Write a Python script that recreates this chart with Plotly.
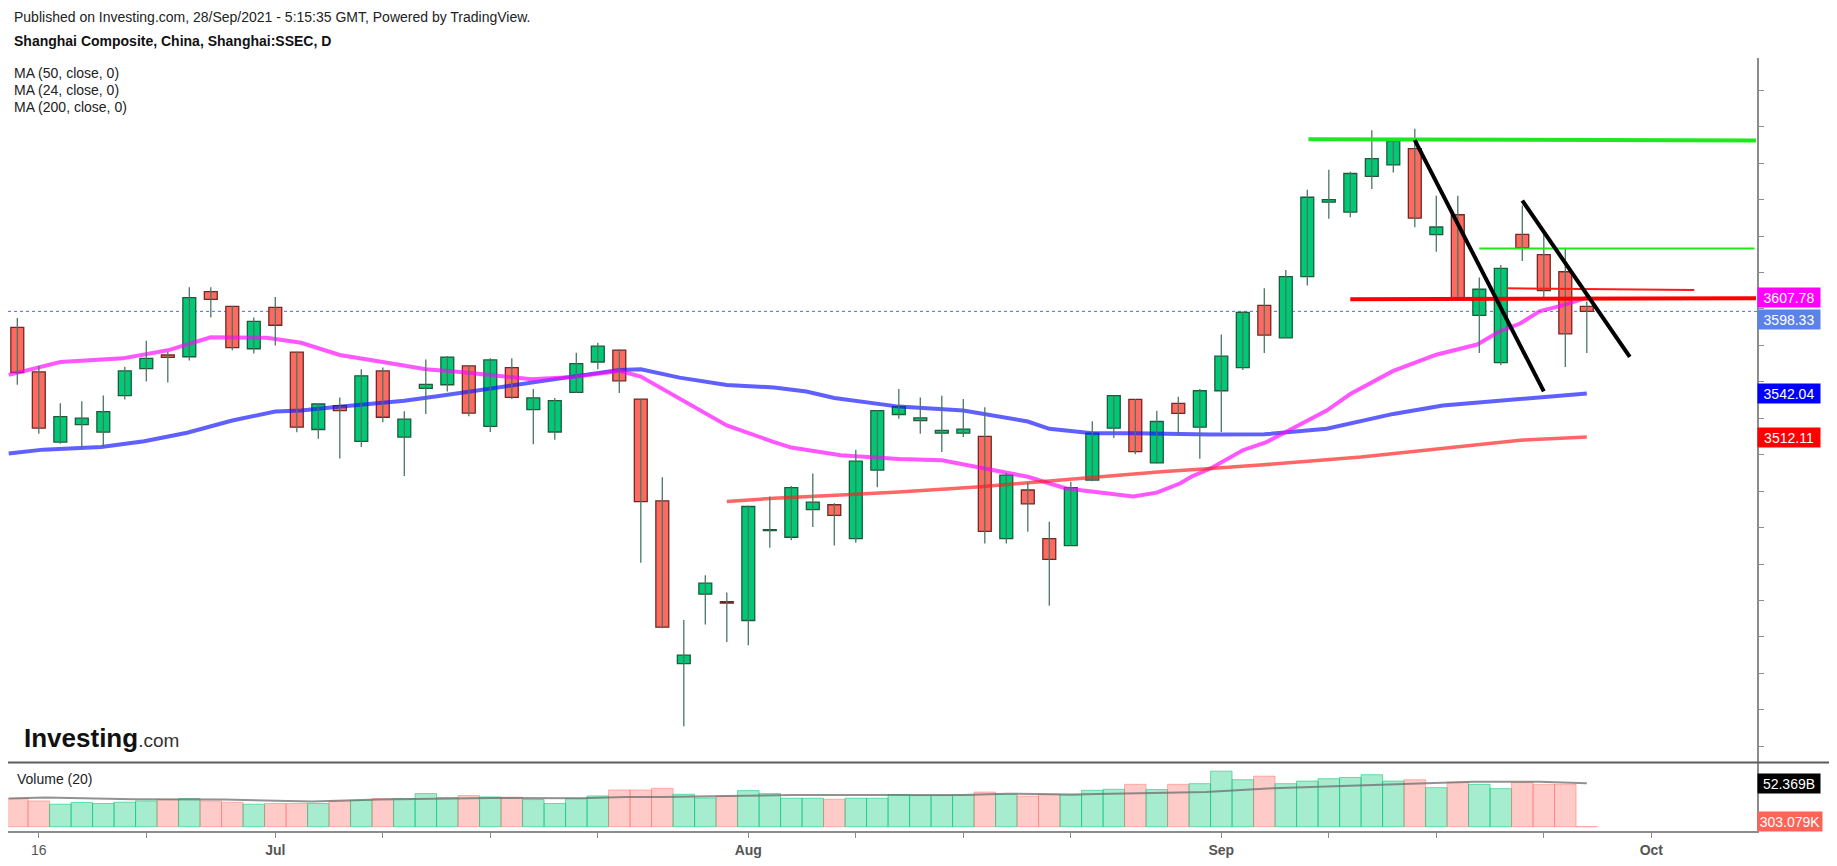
import plotly.graph_objects as go

# Shanghai Composite daily bars, 15 Jun 2021 .. 28 Sep 2021 (bar index 0..73)
opens = [3587.4, 3556.8, 3508.7, 3520.7, 3515.5, 3540.5, 3559.1, 3568.4, 3567.2, 3611.9,
         3601.7, 3572.7, 3601.0, 3570.4, 3517.3, 3533.7, 3509.2, 3557.5, 3512.1, 3545.5,
         3548.0, 3560.9, 3519.4, 3559.8, 3531.0, 3515.6, 3542.8, 3563.6, 3571.8, 3538.2,
         3468.4, 3356.8, 3404.4, 3399.2, 3386.3, 3448.0, 3443.4, 3462.3, 3465.7, 3442.5,
         3489.5, 3527.6, 3523.4, 3514.8, 3514.8, 3512.6, 3442.5, 3475.8, 3442.5, 3437.7,
         3482.6, 3518.2, 3538.0, 3494.4, 3535.2, 3518.9, 3543.9, 3559.8, 3602.4, 3580.2,
         3622.2, 3673.2, 3666.4, 3690.9, 3698.8, 3709.9, 3651.0, 3664.6, 3595.6, 3563.2,
         3651.2, 3637.3, 3625.5, 3601.7]
highs = [3593.8, 3560.9, 3535.3, 3536.6, 3540.7, 3560.4, 3578.1, 3570.4, 3614.9, 3614.9,
         3601.9, 3594.2, 3608.1, 3570.6, 3534.9, 3539.3, 3558.6, 3559.8, 3529.8, 3565.4,
         3567.7, 3561.1, 3566.1, 3566.1, 3545.0, 3538.9, 3570.0, 3576.8, 3572.2, 3538.4,
         3484.5, 3386.7, 3417.4, 3405.6, 3465.0, 3471.3, 3478.6, 3487.2, 3466.8, 3503.5,
         3530.5, 3545.0, 3539.3, 3540.5, 3538.2, 3532.5, 3487.6, 3480.8, 3454.0, 3481.5,
         3523.0, 3540.6, 3538.2, 3530.2, 3539.8, 3545.0, 3582.5, 3598.4, 3614.2, 3626.7,
         3681.8, 3695.4, 3694.0, 3722.6, 3716.7, 3723.5, 3677.7, 3677.7, 3621.5, 3630.1,
         3670.9, 3651.6, 3641.9, 3605.1]
lows = [3548.0, 3514.4, 3507.6, 3504.2, 3505.3, 3537.8, 3550.2, 3549.6, 3564.7, 3594.2,
        3571.6, 3569.5, 3575.0, 3515.5, 3511.0, 3497.4, 3505.3, 3522.3, 3485.4, 3528.0,
        3543.4, 3526.4, 3515.6, 3538.2, 3507.2, 3510.3, 3542.5, 3558.6, 3542.3, 3426.0,
        3381.0, 3313.7, 3383.6, 3371.5, 3369.3, 3436.2, 3441.4, 3450.5, 3437.8, 3439.6,
        3477.7, 3524.6, 3514.4, 3501.9, 3512.1, 3439.1, 3439.1, 3447.2, 3396.4, 3437.5,
        3481.9, 3511.4, 3500.3, 3494.0, 3513.9, 3497.3, 3515.6, 3558.2, 3569.8, 3580.0,
        3616.0, 3661.9, 3662.8, 3682.3, 3693.6, 3656.0, 3639.2, 3606.9, 3569.8, 3561.4,
        3632.8, 3608.1, 3560.2, 3569.8]
closes = [3556.4, 3518.3, 3526.2, 3525.1, 3529.6, 3557.5, 3566.1, 3566.8, 3607.8, 3606.5,
          3573.4, 3591.5, 3588.8, 3518.9, 3534.8, 3530.3, 3554.1, 3525.7, 3524.4, 3548.2,
          3567.0, 3528.5, 3565.0, 3539.4, 3539.0, 3537.1, 3562.5, 3574.5, 3550.7, 3467.9,
          3381.7, 3362.5, 3411.9, 3398.3, 3464.5, 3448.7, 3477.5, 3467.5, 3458.4, 3495.6,
          3530.3, 3533.0, 3525.3, 3516.7, 3517.6, 3447.5, 3486.0, 3466.3, 3428.2, 3477.4,
          3514.8, 3540.5, 3502.1, 3522.8, 3528.4, 3543.9, 3567.7, 3597.7, 3582.0, 3622.2,
          3676.6, 3675.0, 3692.9, 3703.1, 3715.1, 3662.3, 3656.2, 3607.0, 3613.5, 3627.8,
          3642.1, 3612.6, 3582.9, 3598.33]
# volume, billions
volumes = [34.0, 31.2, 27.2, 29.2, 28.0, 29.6, 31.2, 32.8, 34.0, 31.2,
           29.6, 27.2, 28.0, 28.0, 28.0, 31.2, 32.0, 34.0, 34.0, 40.0,
           35.2, 37.6, 36.0, 35.6, 32.8, 28.0, 34.0, 37.2, 44.4, 44.4,
           46.4, 39.2, 34.7, 37.1, 43.6, 40.0, 34.4, 34.4, 33.2, 34.4,
           34.4, 38.8, 37.6, 37.6, 38.3, 41.9, 39.2, 37.1, 39.2, 38.3,
           44.0, 45.2, 51.2, 44.8, 51.2, 52.0, 67.1, 56.8, 61.1, 52.0,
           55.1, 58.0, 59.5, 62.8, 55.1, 56.8, 47.2, 53.6, 51.2, 46.0,
           53.6, 51.2, 51.2, 0.000303]

# moving averages (x = bar index)
ma50_x = [-0.4, 1.2, 3.9, 5.9, 7.9, 10, 12, 13.2, 14.7, 16.3, 18, 19.7, 22, 24, 26.2, 28, 29,
          30.8, 33, 35.2, 36.7, 38, 41, 44, 47, 48, 50, 52, 55.5, 58, 60.9, 64, 66.3, 69, 70.5, 73]
ma50_v = [3500.8, 3503.5, 3505.3, 3509.2, 3515.1, 3523.5, 3529.6, 3530.3, 3532.5, 3534.8,
          3537.1, 3540.5, 3545.5, 3549.5, 3554.1, 3558.2, 3558.6, 3552.9, 3547.9, 3546.1,
          3543.4, 3538.9, 3533.0, 3530.3, 3522.8, 3517.8, 3514.8, 3514.8, 3513.9, 3514.0,
          3517.8, 3528.0, 3533.7, 3537.1, 3538.9, 3542.04]
ma24_x = [-0.4, 2, 4.9, 7, 9, 10, 11.6, 13.2, 15, 17, 19, 20.6, 23.9, 25.9, 28, 29, 31, 33,
          35.2, 36, 38.3, 41, 43, 44.8, 47, 47.9, 48.8, 51.9, 53, 54.1, 54.6, 55.5, 57, 58.1,
          60.9, 62, 64, 66, 67.9, 69, 69.9, 70.8, 72, 73]
ma24_v = [3554.8, 3563.6, 3566.1, 3571.6, 3580.6, 3580.6, 3580.2, 3576.8, 3568.4, 3563.6,
          3558.6, 3556.8, 3551.8, 3553.4, 3557.5, 3553.6, 3537.1, 3520.1, 3508.7, 3504.9,
          3499.6, 3497.0, 3496.2, 3491.2, 3484.9, 3480.8, 3476.9, 3471.3, 3474.0, 3480.4,
          3484.9, 3490.6, 3503.1, 3508.7, 3530.3, 3541.6, 3557.5, 3568.6, 3575.6, 3585.0,
          3590.0, 3598.3, 3602.9, 3607.78]
ma200_x = [33, 35.2, 38.3, 41, 44.8, 48.8, 51.9, 53.2, 55.5, 57.8, 62.5, 67.1, 69.9, 73]
ma200_v = [3467.9, 3470.2, 3472.4, 3474.5, 3478.1, 3483.1, 3487.2, 3488.3, 3490.6, 3492.9,
           3498.5, 3505.3, 3509.9, 3512.11]
vma_x = [-0.4, 1.3, 5.4, 9.6, 13.7, 16.8, 22, 26.2, 28.3, 30, 33, 36, 44, 46, 49, 52, 55.3,
         58.4, 61.5, 64.6, 67.7, 70.8, 73]
vma_v = [34.0, 35.2, 33.2, 32.8, 30.4, 32.8, 34.8, 34.4, 36.0, 35.8, 37.1, 38.3, 38.3, 39.9,
         38.8, 40.5, 42.0, 46.4, 49.2, 52.4, 54.4, 54.4, 52.369]

tick_idx = [1, 6, 12, 17, 22, 27, 34, 39, 44, 49, 56, 61, 66, 71, 76]
tick_txt = ["16", "", "<b>Jul</b>", "", "", "", "<b>Aug</b>", "", "", "", "<b>Sep</b>", "", "", "", "<b>Oct</b>"]

# hand drawn lines: (x0, y0, x1, y1, colour, width)
drawings = [
    (60.05, 3716.3, 80.87, 3715.6, "#1fe81f", 4),
    (68.0, 3641.4, 80.8, 3641.4, "#1fe81f", 2),
    (62.0, 3606.7, 80.87, 3607.4, "#ff0000", 4),
    (69.3, 3614.2, 78.0, 3613.0, "#ff1a1a", 2),
    (65.0, 3715.8, 71.0, 3543.4, "#000000", 4),
    (70.0, 3674.3, 75.0, 3567.2, "#000000", 4),
]

last_close = closes[-1]
# the page body keeps its default 8px margin, so the figure is drawn 8px smaller
PAGE_PAD = 8
W, H = 1837 - 2 * PAGE_PAD, 866 - 2 * PAGE_PAD
# plot area in screen pixels
L_PX, R_PX, T_PX, B_PX = 8, 1757, 58, 837
VOL_TOP = 768


def px_x(px):
    return (px - L_PX) / (R_PX - L_PX)


def px_y(py):
    return (B_PX - py) / (B_PX - T_PX)


split = px_y(VOL_TOP)
FONT = "Liberation Sans, Arial, sans-serif"

n = len(closes)
xs = list(range(n))
up = [c >= o for o, c in zip(opens, closes)]

fig = go.Figure()

# moving averages (under the candles)
fig.add_trace(go.Scatter(x=ma50_x, y=ma50_v, mode="lines", line=dict(color="rgba(20,20,255,0.68)", width=4),
                         hoverinfo="skip"))
fig.add_trace(go.Scatter(x=ma24_x, y=ma24_v, mode="lines", line=dict(color="rgba(255,0,255,0.66)", width=4),
                         hoverinfo="skip"))
fig.add_trace(go.Scatter(x=ma200_x, y=ma200_v, mode="lines", line=dict(color="rgba(255,30,30,0.68)", width=3.5),
                         hoverinfo="skip"))

# wicks
wx, wy = [], []
for i in xs:
    wx += [i, i, None]
    wy += [lows[i], highs[i], None]
fig.add_trace(go.Scatter(x=wx, y=wy, mode="lines", line=dict(color="#4a7763", width=1.3), hoverinfo="skip"))

# candle bodies
fig.add_trace(go.Bar(
    x=xs, y=[abs(c - o) for o, c in zip(opens, closes)], base=[min(o, c) for o, c in zip(opens, closes)],
    width=0.6,
    marker=dict(color=["#00c875" if u else "#ff6a60" for u in up],
                line=dict(color=["#1f5a3c" if u else "#6e2a26" for u in up], width=1.3)),
    hoverinfo="skip",
))

# volume
fig.add_trace(go.Bar(
    x=xs, y=volumes, xaxis="x2", yaxis="y2", width=1.0,
    marker=dict(color=["rgba(0,200,117,0.35)" if u else "rgba(255,106,96,0.35)" for u in up],
                line=dict(color=["rgba(0,200,117,0.55)" if u else "rgba(255,106,96,0.45)" for u in up], width=1)),
    hoverinfo="skip",
))
fig.add_trace(go.Scatter(x=vma_x, y=vma_v, xaxis="x2", yaxis="y2", mode="lines",
                         line=dict(color="rgba(110,110,110,0.75)", width=2), hoverinfo="skip"))

shapes = [
    dict(type="line", xref="paper", yref="y", x0=0, x1=1, y0=last_close, y1=last_close,
         line=dict(color="#4a6ee0", width=1, dash="dot"), layer="below"),
    dict(type="line", xref="paper", yref="paper", x0=0, x1=px_x(1837), y0=split, y1=split,
         line=dict(color="#5c5c5c", width=2)),
]
for x0, y0, x1, y1, col, wd in drawings:
    shapes.append(dict(type="line", xref="x", yref="y", x0=x0, y0=y0, x1=x1, y1=y1,
                       line=dict(color=col, width=wd)))

annotations = [
    dict(text="Published on Investing.com, 28/Sep/2021 - 5:15:35 GMT, Powered by TradingView.",
         x=px_x(12), y=px_y(17), font=dict(size=14, color="#222")),
    dict(text="<b>Shanghai Composite, China, Shanghai:SSEC, D</b>",
         x=px_x(12), y=px_y(41), font=dict(size=14, color="#111")),
    dict(text="MA (50, close, 0)", x=px_x(12), y=px_y(73), font=dict(size=14, color="#222")),
    dict(text="MA (24, close, 0)", x=px_x(12), y=px_y(90), font=dict(size=14, color="#222")),
    dict(text="MA (200, close, 0)", x=px_x(12), y=px_y(107), font=dict(size=14, color="#222")),
    dict(text="Volume (20)", x=px_x(15), y=px_y(785), font=dict(size=14, color="#222")),
    dict(text="<b>Investing</b><span style='font-size:19px;font-weight:normal;color:#333'>.com</span>",
         x=px_x(22), y=px_y(743), font=dict(size=26, color="#111")),
]
for a in annotations:
    a.update(xref="paper", yref="paper", xanchor="left", yanchor="middle", showarrow=False)

# price labels on the right scale
price_tags = [(3607.78, "#ff00ff", 0), (last_close, "#5b82e6", -8), (3542.04, "#0000ff", 0), (3512.11, "#ff0000", 0)]
for val, col, shift in price_tags:
    annotations.append(dict(text=f"{val:.2f}", xref="paper", yref="y", x=1, y=val, yshift=shift,
                            xanchor="left", yanchor="middle", showarrow=False, bgcolor=col,
                            width=60, height=17, borderpad=1, font=dict(size=14, color="white")))
annotations.append(dict(text="52.369B", xref="paper", yref="y2", x=1, y=vma_v[-1], xanchor="left",
                        yanchor="middle", showarrow=False, bgcolor="#000000", width=60, height=17,
                        borderpad=1, font=dict(size=14, color="white")))
annotations.append(dict(text="303.079K", xref="paper", yref="y2", x=1, y=volumes[-1], yshift=5,
                        xanchor="left", yanchor="middle", showarrow=False, bgcolor="#ff6257",
                        width=62, height=17, borderpad=1, font=dict(size=14, color="white")))

x_range = [(L_PX - 17.3) / 21.5, (R_PX - 17.3) / 21.5]

fig.update_layout(
    width=W, height=H,
    margin=dict(l=L_PX - PAGE_PAD, r=1837 - PAGE_PAD - R_PX, t=T_PX - PAGE_PAD, b=866 - PAGE_PAD - B_PX),
    paper_bgcolor="white", plot_bgcolor="white",
    showlegend=False, barmode="overlay",
    font=dict(family=FONT),
    xaxis=dict(domain=[0, 1], range=x_range, anchor="y", showticklabels=False, showgrid=False,
               zeroline=False, fixedrange=True),
    xaxis2=dict(domain=[0, 1], range=x_range, anchor="y2", matches="x", showgrid=False, zeroline=False,
                showline=True, linecolor="#8c8c8c", linewidth=2, ticks="outside", ticklen=5,
                tickcolor="#8c8c8c", tickvals=tick_idx, ticktext=tick_txt,
                tickfont=dict(size=14, color="#555", family=FONT)),
    yaxis=dict(domain=[split, 1], range=[3288.9, 3772.1], side="right", showgrid=False, zeroline=False,
               showline=True, linecolor="#8c8c8c", linewidth=2, ticks="outside", ticklen=5,
               tickcolor="#8c8c8c", dtick=25, tick0=0, showticklabels=False),
    yaxis2=dict(domain=[0, split], range=[-5.15, 77.5], side="right", showgrid=False, zeroline=False,
                showline=True, linecolor="#8c8c8c", linewidth=2, showticklabels=False),
    shapes=shapes, annotations=annotations,
)

fig.write_html("out.html")
